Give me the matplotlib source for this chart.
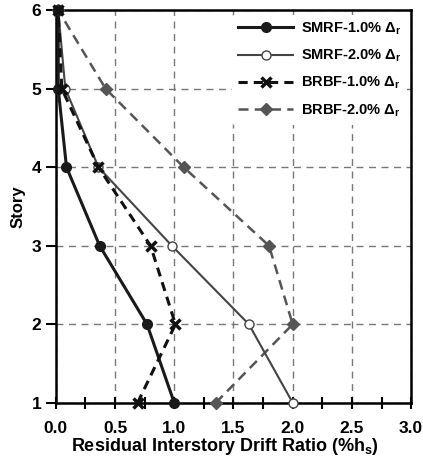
import matplotlib.pyplot as plt
from matplotlib.ticker import MultipleLocator

plt.rcParams['font.family'] = ['Liberation Sans', 'DejaVu Sans']
plt.rcParams['font.weight'] = 'bold'
plt.rcParams['axes.labelweight'] = 'bold'
plt.rcParams['mathtext.fontset'] = 'custom'
plt.rcParams['mathtext.rm'] = 'Liberation Sans:bold'
plt.rcParams['mathtext.it'] = 'Liberation Sans:bold'
plt.rcParams['mathtext.bf'] = 'Liberation Sans:bold'

# story levels
stories = [1, 2, 3, 4, 5, 6]

# residual drift (%hs) per story
smrf_10 = [1.00, 0.77, 0.37, 0.09, 0.02, 0.02]
smrf_20 = [2.00, 1.63, 0.98, 0.36, 0.08, 0.02]
brbf_10 = [0.69, 1.01, 0.80, 0.36, 0.05, 0.02]
brbf_20 = [1.35, 2.00, 1.80, 1.08, 0.42, 0.02]

xticks = [0.0, 0.5, 1.0, 1.5, 2.0, 2.5, 3.0]
xtick_labels = ['0.0', '0.5', '1.0', '1.5', '2.0', '2.5', '3.0']
ytick_labels = ['1', '2', '3', '4', '5', '6']

fig = plt.figure(figsize=(4.23, 4.62), dpi=100)
ax = fig.add_axes([0.132, 0.128, 0.840, 0.850])

ax.plot(smrf_10, stories, color='#1a1a1a', lw=2.2, marker='o', ms=7,
        label=r'SMRF-1.0% $\Delta_\mathrm{r}$', zorder=5, clip_on=False)
ax.plot(smrf_20, stories, color='#444444', lw=1.5, marker='o', ms=6.5,
        mfc='white', mec='#444444', label=r'SMRF-2.0% $\Delta_\mathrm{r}$',
        zorder=4, clip_on=False)
ax.plot(brbf_10, stories, color='#111111', lw=2.2, ls=(0, (3, 2)), marker='x',
        ms=7, mew=2.5, label=r'BRBF-1.0% $\Delta_\mathrm{r}$', zorder=5,
        clip_on=False)
ax.plot(brbf_20, stories, color='#555555', lw=1.8, ls=(0, (4, 2.5)), marker='D',
        ms=6, label=r'BRBF-2.0% $\Delta_\mathrm{r}$', zorder=3, clip_on=False)

ax.set_xlim(0, 3.0)
ax.set_ylim(1, 6)
ax.set_xticks(xticks, xtick_labels, fontsize=12.5, fontweight='bold')
ax.set_yticks(stories, ytick_labels, fontsize=12.5, fontweight='bold')
ax.xaxis.set_minor_locator(MultipleLocator(0.25))

ax.grid(True, which='major', color='#777777', ls=(0, (5, 4)), lw=1)
ax.tick_params(axis='x', which='both', direction='inout', length=8, width=1.5,
               pad=9)
ax.tick_params(axis='y', which='major', direction='out', length=7, width=1.5)
for s in ax.spines.values():
    s.set_linewidth(1.8)

ax.set_xlabel(r'Residual Interstory Drift Ratio (%h$_\mathrm{s}$)', fontsize=13,
              fontweight='bold', labelpad=0)
ax.xaxis.set_label_coords(0.475, -0.085)
ax.set_ylabel('Story', fontsize=12, fontweight='bold', labelpad=4)

leg = ax.legend(loc='upper right', frameon=True, handlelength=3.8,
                prop={'weight': 'bold', 'size': 10.5},
                borderaxespad=0.3, labelspacing=0.75, handletextpad=0.5)
leg.get_frame().set_edgecolor('none')
leg.get_frame().set_facecolor('white')
leg.get_frame().set_alpha(1)

plt.savefig('out.png', dpi=100)
